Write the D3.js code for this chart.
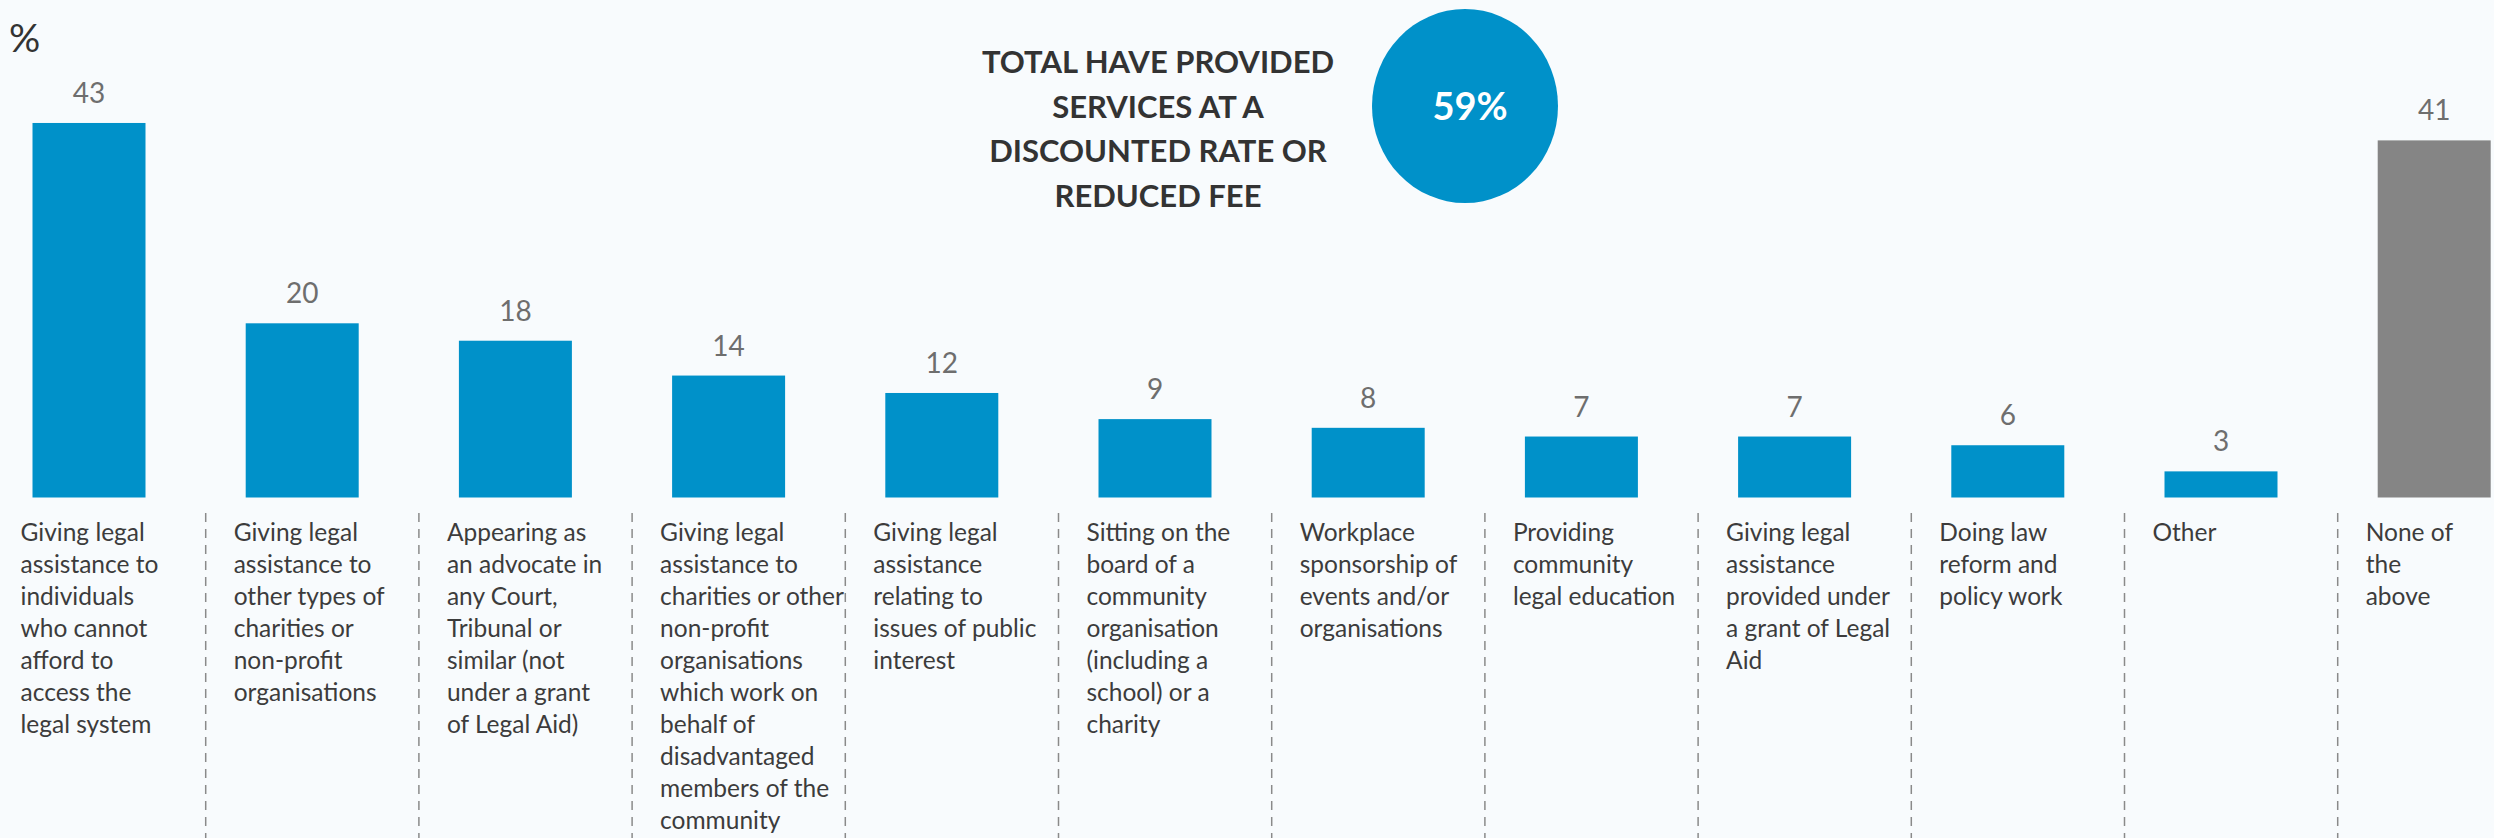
<!DOCTYPE html>
<html>
<head>
<meta charset="utf-8">
<script src="https://cdn.jsdelivr.net/npm/d3@7"></script>
<style>
  body { margin: 0; background: #f8fbfd; }
  text { font-family: Lato, "Open Sans", sans-serif; }
</style>
</head>
<body>
<div id="chart"></div>
<script>
// categories (short keys) and their wrapped axis labels
const categories = ["indiv", "charities", "advocate", "disadv", "public", "board",
  "sponsor", "education", "legalaid", "reform", "other", "none"];
const labelLines = [
  ["Giving legal", "assistance to", "individuals", "who cannot", "afford to", "access the", "legal system"],
  ["Giving legal", "assistance to", "other types of", "charities or", "non-profit", "organisations"],
  ["Appearing as", "an advocate in", "any Court,", "Tribunal or", "similar (not", "under a grant", "of Legal Aid)"],
  ["Giving legal", "assistance to", "charities or other", "non-profit", "organisations", "which work on", "behalf of", "disadvantaged", "members of the", "community"],
  ["Giving legal", "assistance", "relating to", "issues of public", "interest"],
  ["Sitting on the", "board of a", "community", "organisation", "(including a", "school) or a", "charity"],
  ["Workplace", "sponsorship of", "events and/or", "organisations"],
  ["Providing", "community", "legal education"],
  ["Giving legal", "assistance", "provided under", "a grant of Legal", "Aid"],
  ["Doing law", "reform and", "policy work"],
  ["Other"],
  ["None of", "the", "above"]
];
const values = [43, 20, 18, 14, 12, 9, 8, 7, 7, 6, 3, 41];
const greyCategories = ["none"];

const totalText = ["TOTAL HAVE PROVIDED", "SERVICES AT A", "DISCOUNTED RATE OR", "REDUCED FEE"];
const totalValue = "59%";
const unitLabel = "%";

const width = 2494, height = 838;
const blue = "#0091c9", grey = "#858585";

const data = categories.map((c, i) => ({ key: c, value: values[i], lines: labelLines[i] }));

const svg = d3.select("#chart").append("svg")
  .attr("width", width)
  .attr("height", height);

svg.append("rect").attr("width", width).attr("height", height).attr("fill", "#f8fbfd");

const x = d3.scaleBand()
  .domain(categories)
  .range([-17.6, 2540.8])
  .paddingInner(0.47)
  .paddingOuter(0.235);

const y = d3.scaleLinear()
  .domain([0, 50])
  .range([497.5, 497.5 - 50 * 8.71]);

// bars
svg.selectAll("rect.bar").data(data)
  .enter().append("rect")
  .attr("class", "bar")
  .attr("x", d => x(d.key))
  .attr("y", d => y(d.value))
  .attr("width", x.bandwidth())
  .attr("height", d => y(0) - y(d.value))
  .attr("fill", d => greyCategories.includes(d.key) ? grey : blue);

// value labels
svg.selectAll("text.val").data(data)
  .enter().append("text")
  .attr("class", "val")
  .attr("x", d => x(d.key) + x.bandwidth() / 2)
  .attr("y", d => y(d.value) - 20)
  .attr("text-anchor", "middle")
  .attr("font-size", 28)
  .attr("fill", "#6e6e6e")
  .text(d => d.value);

// dashed dividers between label columns
svg.selectAll("line.div").data(data.slice(1))
  .enter().append("line")
  .attr("class", "div")
  .attr("x1", d => x(d.key) - 40)
  .attr("x2", d => x(d.key) - 40)
  .attr("y1", 513)
  .attr("y2", height)
  .attr("stroke", "#8a8a8a")
  .attr("stroke-width", 1.5)
  .attr("stroke-dasharray", "9,7");

// category labels
const lbl = svg.selectAll("text.cat").data(data)
  .enter().append("text")
  .attr("class", "cat")
  .attr("x", d => x(d.key) - 12)
  .attr("y", 541)
  .attr("font-size", 24.5)
  .attr("fill", "#3c3c3c");
lbl.selectAll("tspan").data(d => d.lines.map(l => ({ l, x: x(d.key) - 12 })))
  .enter().append("tspan")
  .attr("x", t => t.x)
  .attr("dy", (t, i) => i === 0 ? 0 : 32)
  .text(t => t.l);

// unit
svg.append("text")
  .attr("x", 9).attr("y", 52)
  .attr("font-size", 39)
  .attr("fill", "#333")
  .text(unitLabel);

// headline
svg.append("text")
  .attr("text-anchor", "middle")
  .attr("font-size", 31)
  .attr("font-weight", "bold")
  .attr("fill", "#333")
  .selectAll("tspan").data(totalText)
  .enter().append("tspan")
  .attr("x", 1158)
  .attr("y", (d, i) => 73 + i * 44.7)
  .text(d => d);

svg.append("ellipse")
  .attr("cx", 1465).attr("cy", 106)
  .attr("rx", 93).attr("ry", 97)
  .attr("fill", blue);

svg.append("text")
  .attr("x", 1470).attr("y", 120)
  .attr("text-anchor", "middle")
  .attr("font-size", 38)
  .attr("font-weight", "bold")
  .attr("fill", "#fff")
  .text(totalValue);
</script>
</body>
</html>
